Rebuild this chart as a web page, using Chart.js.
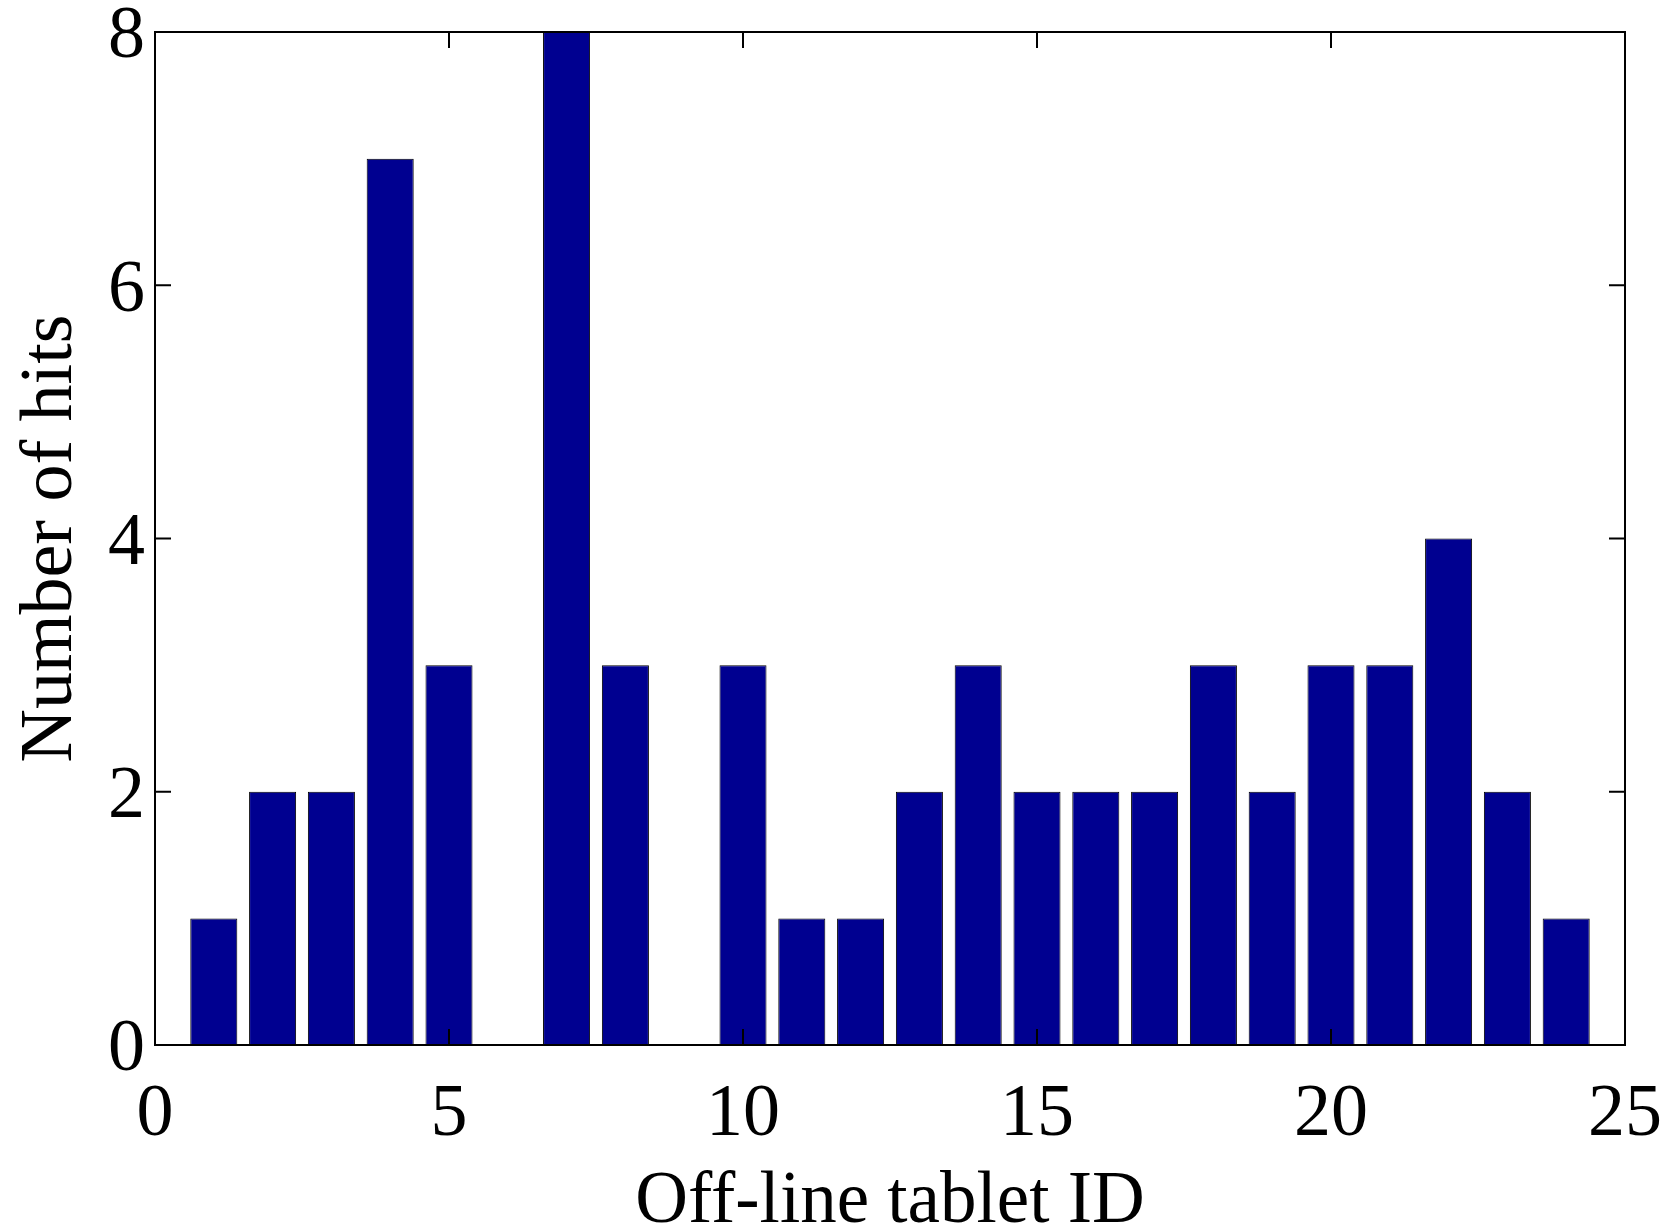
<!DOCTYPE html>
<html>
<head>
<meta charset="utf-8">
<script src="https://cdn.jsdelivr.net/npm/chart.js@4"></script>
<style>
    html, body { margin: 0; padding: 0; background: #fff; }
    #wrap { width: 1667px; height: 1231px; }
</style>
</head>
<body>
<div id="wrap"><canvas id="hits" width="1667" height="1231"></canvas></div>
<script>
    const tabletIds = [1, 2, 3, 4, 5, 6, 7, 8, 9, 10, 11, 12, 13, 14, 15, 16, 17, 18, 19, 20, 21, 22, 23, 24];
    const hitCounts = [1, 2, 2, 7, 3, 0, 8, 3, 0, 3, 1, 1, 2, 3, 2, 2, 2, 3, 2, 3, 3, 4, 2, 1];
    const xTicks = [0, 5, 10, 15, 20, 25];
    const yTicks = [0, 2, 4, 6, 8];

    const serif = '"Liberation Serif", "Times New Roman", serif';

    // MATLAB style box with inward ticks on all four sides
    const boxTicks = {
        id: 'boxTicks',
        afterDatasetsDraw(chart) {
            const { ctx, chartArea: a, scales: { x, y } } = chart;
            const len = 16;
            ctx.save();
            ctx.strokeStyle = '#000';
            ctx.lineWidth = 2;
            ctx.beginPath();
            xTicks.forEach(v => {
                const px = x.getPixelForValue(v);
                ctx.moveTo(px, a.bottom); ctx.lineTo(px, a.bottom - len);
                ctx.moveTo(px, a.top); ctx.lineTo(px, a.top + len);
            });
            yTicks.forEach(v => {
                const py = y.getPixelForValue(v);
                ctx.moveTo(a.left, py); ctx.lineTo(a.left + len, py);
                ctx.moveTo(a.right, py); ctx.lineTo(a.right - len, py);
            });
            ctx.stroke();
            ctx.strokeRect(a.left, a.top, a.right - a.left, a.bottom - a.top);
            ctx.restore();
        }
    };

    new Chart(document.getElementById('hits'), {
        type: 'bar',
        data: {
            datasets: [{
                data: tabletIds.map((id, i) => ({ x: id, y: hitCounts[i] })),
                backgroundColor: '#000090',
                borderColor: '#000',
                borderWidth: 1,
                barPercentage: 0.8,
                categoryPercentage: 1
            }]
        },
        options: {
            responsive: false,
            animation: false,
            layout: { padding: { top: 32, right: 42, left: 0, bottom: 0 } },
            plugins: { legend: { display: false }, tooltip: { enabled: false } },
            scales: {
                x: {
                    type: 'linear',
                    min: 0,
                    max: 25,
                    offset: false,
                    grid: { display: false, drawTicks: false },
                    border: { display: false },
                    afterBuildTicks: s => { s.ticks = xTicks.map(v => ({ value: v })); },
                    afterFit: s => {
                        s.height = 186;
                        s.paddingLeft = 0;
                        s.paddingRight = 0;
                    },
                    ticks: {
                        color: '#000',
                        padding: 26,
                        maxRotation: 0,
                        autoSkip: false,
                        font: { family: serif, size: 74 }
                    },
                    title: {
                        display: true,
                        text: 'Off-line tablet ID',
                        color: '#000',
                        font: { family: serif, size: 73, lineHeight: 1 },
                        padding: { top: 0, bottom: -8 }
                    }
                },
                y: {
                    min: 0,
                    max: 8,
                    grid: { display: false, drawTicks: false },
                    border: { display: false },
                    afterBuildTicks: s => { s.ticks = yTicks.map(v => ({ value: v })); },
                    afterFit: s => {
                        s.width = 155;
                        s.paddingTop = 0;
                        s.paddingBottom = 0;
                    },
                    ticks: {
                        color: '#000',
                        padding: 10,
                        labelOffset: 6,
                        font: { family: serif, size: 74 }
                    },
                    title: {
                        display: true,
                        text: 'Number of hits',
                        color: '#000',
                        font: { family: serif, size: 74, lineHeight: 1 },
                        padding: { top: 15, bottom: 0 }
                    }
                }
            }
        },
        plugins: [boxTicks]
    });
</script>
</body>
</html>
